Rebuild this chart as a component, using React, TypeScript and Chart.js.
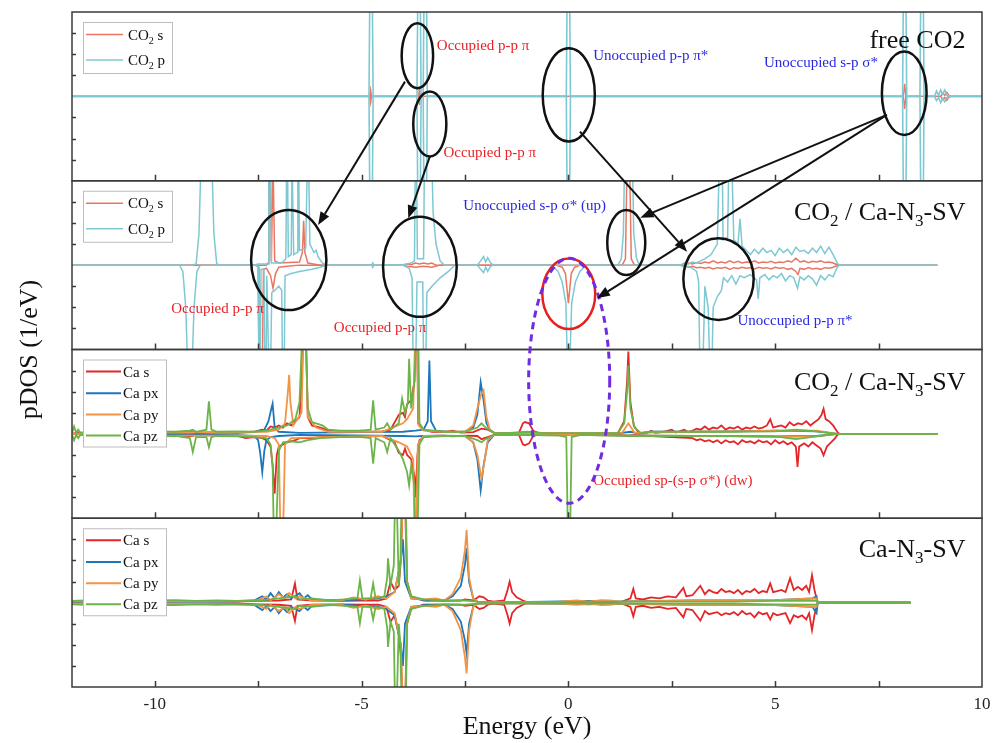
import React, { useEffect, useRef } from "react";
import { Chart, registerables } from "chart.js";
Chart.register(...registerables);

type Pt = [number, number];
const FONT = '"Liberation Serif", "Times New Roman", serif';

// ---------- Panel A: free CO2 ----------
const freeS_up: Pt[] = [[-12,0],[-4.8,0],[-4.78,0.3],[-4.76,0],[-3.62,0],[-3.6,0.4],[-3.58,0],[8.1,0],[8.13,0.6],[8.16,0],[9.0,0],[9.05,0.15],[9.1,0.05],[9.15,0.2],[9.2,0.05],[9.25,0],[10,0]];
const freeS_dn: Pt[] = [[-12,0],[-4.8,0],[-4.78,-0.3],[-4.76,0],[-3.62,0],[-3.6,-0.4],[-3.58,0],[8.1,0],[8.13,-0.6],[8.16,0],[9.0,0],[9.05,-0.15],[9.1,-0.05],[9.15,-0.2],[9.2,-0.05],[9.25,0],[10,0]];
const freeP_up: Pt[] = [[-12,0],[-4.82,0],[-4.8,5],[-4.74,5],[-4.72,0],[-3.66,0],[-3.64,5],[-3.58,5],[-3.56,0],[-3.51,0],[-3.49,5],[-3.43,5],[-3.41,0],[-0.05,0],[-0.03,5],[0.03,5],[0.05,0],[8.08,0],[8.1,5],[8.16,5],[8.18,0],[8.5,0],[8.52,5],[8.58,5],[8.6,0],[8.85,0],[8.9,0.25],[8.95,0.05],[9.0,0.3],[9.05,0.1],[9.1,0.3],[9.15,0.05],[9.2,0],[10,0]];
const freeP_dn: Pt[] = [[-12,0],[-4.82,0],[-4.8,-5],[-4.74,-5],[-4.72,0],[-3.66,0],[-3.64,-5],[-3.58,-5],[-3.56,0],[-3.51,0],[-3.49,-5],[-3.43,-5],[-3.41,0],[-0.05,0],[-0.03,-5],[0.03,-5],[0.05,0],[8.08,0],[8.1,-5],[8.16,-5],[8.18,0],[8.5,0],[8.52,-5],[8.58,-5],[8.6,0],[8.85,0],[8.9,-0.2],[8.95,-0.05],[9.0,-0.3],[9.05,-0.1],[9.1,-0.25],[9.15,-0.05],[9.2,0],[10,0]];

// ---------- Panel B: CO2 / Ca-N3-SV (CO2 orbitals) ----------
const adsP_up: Pt[] = [[-12,0],[-9.1,0],[-9.0,0.05],[-8.93,1.5],[-8.88,5],[-8.62,5],[-8.57,1.5],[-8.5,0.05],[-8.4,0],[-7.6,0],[-7.5,0.05],[-7.26,0.05],[-7.24,5],[-7.2,5],[-7.18,0.1],[-7.0,0.1],[-6.9,0.15],[-6.83,0.3],[-6.81,5],[-6.79,5],[-6.77,0.4],[-6.7,0.5],[-6.68,5],[-6.66,5],[-6.64,0.5],[-6.56,0.6],[-6.54,5],[-6.52,5],[-6.5,0.7],[-6.35,0.8],[-6.31,5],[-6.28,5],[-6.25,1.0],[-6.15,0.6],[-6.1,0.7],[-6.05,0.4],[-5.95,0.1],[-5.85,0],[-4.75,0],[-4.73,0.1],[-4.7,0],[-4.0,0.02],[-3.8,0.1],[-3.72,0.2],[-3.7,5],[-3.67,5],[-3.65,0.3],[-3.5,0.3],[-3.48,5],[-3.3,5],[-3.27,2.5],[-3.2,1.0],[-3.1,0.2],[-3.0,0],[-2.2,0],[-2.12,0.2],[-2.05,0.4],[-2.0,0.15],[-1.95,0.35],[-1.88,0.1],[-1.8,0],[1.2,0],[1.28,0.3],[1.33,1.5],[1.36,5],[1.55,5],[1.58,1.5],[1.65,0.3],[1.72,0],[2.7,0],[2.8,0.1],[2.9,0.05],[3.0,0.15],[3.1,0.1],[3.2,0.2],[3.3,0.3],[3.45,0.5],[3.6,1.0],[3.65,5],[3.72,5],[3.74,1.2],[3.85,1.3],[3.88,5],[3.95,5],[4.0,1.2],[4.1,1.0],[4.15,2.2],[4.2,0.9],[4.3,0.7],[4.4,0.5],[4.5,0.75],[4.6,0.55],[4.7,0.8],[4.8,0.6],[4.9,0.7],[5.0,0.45],[5.1,0.8],[5.2,0.6],[5.3,0.75],[5.4,0.5],[5.5,0.85],[5.6,0.65],[5.7,0.7],[5.8,0.55],[5.9,0.8],[6.0,0.6],[6.1,0.9],[6.2,0.55],[6.3,0.85],[6.4,0.5],[6.5,0.1],[6.55,0],[8.92,0]];
const adsP_dn: Pt[] = [[-12,0],[-9.4,0],[-9.32,-0.3],[-9.25,-2],[-9.2,-5],[-9.1,-5],[-9.05,-2],[-8.98,-0.3],[-8.9,0],[-7.6,0],[-7.5,-0.05],[-7.48,-5],[-7.45,-5],[-7.43,-0.2],[-7.36,-0.2],[-7.34,-5],[-7.31,-5],[-7.29,-0.5],[-7.24,-5],[-7.2,-5],[-7.17,-1.3],[-7.1,-1.2],[-7.0,-1.0],[-6.93,-1.2],[-6.91,-5],[-6.87,-5],[-6.85,-0.5],[-6.7,-0.4],[-6.5,-0.3],[-6.2,-0.2],[-6.0,-0.1],[-5.85,0],[-4.75,0],[-4.73,-0.1],[-4.7,0],[-4.0,0],[-3.85,-0.15],[-3.78,-0.6],[-3.75,-5],[-3.69,-5],[-3.66,-0.8],[-3.52,-0.8],[-3.5,-5],[-3.45,-5],[-3.42,-1.3],[-3.3,-1.0],[-3.1,-0.6],[-2.9,-0.3],[-2.75,0],[-2.2,0],[-2.12,-0.2],[-2.05,-0.35],[-2.0,-0.1],[-1.95,-0.3],[-1.88,-0.05],[-1.8,0],[-0.45,0],[-0.35,-0.1],[-0.25,-0.3],[-0.15,-0.8],[-0.06,-1.8],[-0.02,-5],[0.03,-5],[0.08,-1.8],[0.17,-0.8],[0.28,-0.3],[0.38,-0.1],[0.48,0],[2.7,0],[2.8,-0.1],[2.9,-0.05],[3.0,-0.15],[3.1,-0.3],[3.15,-0.8],[3.18,-5],[3.25,-5],[3.3,-1.0],[3.38,-2],[3.42,-5],[3.47,-5],[3.5,-2.0],[3.6,-1.5],[3.7,-1.2],[3.75,-0.6],[3.85,-0.8],[3.95,-0.5],[4.05,-0.9],[4.15,-0.5],[4.25,-0.6],[4.4,-0.45],[4.55,-0.7],[4.59,-1.6],[4.63,-0.6],[4.75,-0.45],[4.85,-0.7],[4.95,-0.5],[5.05,-0.6],[5.15,-0.4],[5.25,-0.75],[5.35,-0.5],[5.45,-0.6],[5.54,-1.1],[5.6,-0.55],[5.7,-0.7],[5.8,-0.5],[5.9,-0.65],[6.0,-0.95],[6.1,-0.5],[6.2,-0.7],[6.3,-0.45],[6.4,-0.55],[6.5,-0.1],[6.55,0],[8.92,0]];
const adsS_up: Pt[] = [[-12,0],[-7.3,0],[-7.26,0.1],[-7.24,5],[-7.21,5],[-7.18,0.2],[-7.14,5],[-7.12,5],[-7.1,0.2],[-7.0,0.1],[-6.5,0.15],[-6.43,0.6],[-6.4,2.1],[-6.37,0.6],[-6.3,0.1],[-6.0,0],[-4.0,0],[-3.9,0.05],[-3.8,0.02],[-3.7,0.1],[-3.6,0.05],[-3.5,0.1],[-3.4,0.05],[-3.3,0.1],[-3.2,0],[1.3,0],[1.38,0.3],[1.42,5],[1.48,5],[1.52,0.3],[1.6,0],[2.8,0],[2.9,0.1],[3.0,0.05],[3.1,0.12],[3.2,0.08],[3.3,0.15],[3.4,0.1],[3.5,0.2],[3.6,0.1],[3.7,0.15],[3.8,0.1],[3.9,0.2],[4.0,0.12],[4.1,0.18],[4.2,0.1],[4.3,0.15],[4.4,0.12],[4.5,0.2],[4.6,0.1],[4.7,0.15],[4.8,0.12],[4.9,0.18],[5.0,0.1],[5.1,0.15],[5.2,0.12],[5.3,0.2],[5.4,0.15],[5.5,0.33],[5.6,0.15],[5.7,0.2],[5.8,0.12],[5.9,0.18],[6.0,0.15],[6.1,0.2],[6.2,0.12],[6.3,0.15],[6.4,0.1],[6.5,0.02],[6.55,0],[8.92,0]];
const adsS_dn: Pt[] = [[-12,0],[-7.55,0],[-7.5,-0.1],[-7.48,-5],[-7.45,-5],[-7.42,-5],[-7.4,-5],[-7.37,-0.2],[-7.3,-0.15],[-7.2,-0.5],[-7.14,-1.1],[-7.08,-0.4],[-7.0,-0.1],[-6.8,-0.05],[-6.5,0],[-4.0,0],[-3.9,-0.05],[-3.7,-0.1],[-3.5,-0.05],[-3.3,-0.1],[-3.1,0],[-0.3,0],[-0.15,-0.1],[-0.07,-0.4],[-0.03,-1.2],[0.0,-1.8],[0.03,-1.2],[0.07,-0.4],[0.15,-0.1],[0.3,0],[2.8,0],[2.9,-0.1],[3.0,-0.06],[3.1,-0.12],[3.2,-0.1],[3.3,-0.15],[3.4,-0.1],[3.5,-0.18],[3.6,-0.12],[3.7,-0.15],[3.8,-0.1],[3.9,-0.2],[4.0,-0.12],[4.1,-0.16],[4.2,-0.1],[4.3,-0.15],[4.4,-0.12],[4.5,-0.18],[4.6,-0.1],[4.7,-0.15],[4.8,-0.12],[4.9,-0.18],[5.0,-0.1],[5.1,-0.15],[5.2,-0.12],[5.3,-0.2],[5.4,-0.15],[5.5,-0.3],[5.55,-0.45],[5.6,-0.15],[5.7,-0.2],[5.8,-0.12],[5.9,-0.18],[6.0,-0.15],[6.1,-0.2],[6.2,-0.12],[6.3,-0.15],[6.4,-0.1],[6.5,-0.02],[6.55,0],[8.92,0]];

// ---------- Panel C: CO2 / Ca-N3-SV (Ca orbitals) ----------
const adsCaS_up: Pt[] = [[-12,0],[-11.9,0.05],[-11.5,0.08],[-11,0.05],[-10.5,0.1],[-10,0.06],[-9.5,0.08],[-9.1,0.12],[-9.0,0.05],[-8.5,0.08],[-8.0,0.06],[-7.6,0.1],[-7.4,0.2],[-7.3,0.15],[-7.2,0.35],[-7.1,0.3],[-7.0,0.4],[-6.9,0.3],[-6.8,0.5],[-6.7,0.4],[-6.6,0.6],[-6.5,0.8],[-6.45,2.5],[-6.4,5],[-6.35,5],[-6.3,0.8],[-6.2,0.4],[-6.0,0.3],[-5.8,0.15],[-5.5,0.12],[-5.2,0.1],[-5.0,0.15],[-4.8,0.1],[-4.5,0.12],[-4.3,0.2],[-4.1,0.9],[-4.0,1.0],[-3.95,0.8],[-3.9,1.4],[-3.8,1.6],[-3.72,2.5],[-3.69,5],[-3.66,5],[-3.63,0.5],[-3.5,0.2],[-3.3,0.1],[-3.0,0.08],[-2.8,0.15],[-2.6,0.06],[-2.3,0.08],[-2.1,0.25],[-1.95,0.2],[-1.8,0.06],[-1.6,0.02],[-1.2,0.02],[-1.1,0.5],[-1.05,0.56],[-0.95,0.5],[-0.85,0.15],[-0.7,0.03],[0,0.02],[1.2,0.05],[1.35,0.6],[1.42,2.5],[1.45,3.9],[1.5,1.5],[1.58,0.4],[1.7,0.05],[1.9,0.05],[2.0,0.15],[2.1,0.05],[2.3,0.1],[2.5,0.2],[2.6,0.06],[2.8,0.2],[2.9,0.08],[3.0,0.15],[3.1,0.25],[3.2,0.2],[3.3,0.35],[3.4,0.2],[3.5,0.3],[3.6,0.25],[3.7,0.4],[3.8,0.2],[3.9,0.3],[4.0,0.25],[4.1,0.35],[4.2,0.2],[4.3,0.3],[4.4,0.25],[4.5,0.35],[4.6,0.25],[4.7,0.3],[4.8,0.4],[4.88,0.69],[4.95,0.3],[5.05,0.35],[5.15,0.4],[5.25,0.3],[5.35,0.55],[5.45,0.4],[5.55,0.5],[5.65,0.45],[5.75,0.6],[5.85,0.4],[5.95,0.55],[6.05,0.7],[6.12,0.9],[6.17,1.19],[6.22,0.7],[6.3,0.6],[6.4,0.4],[6.5,0.1],[6.55,0],[8.92,0]];
const adsCaS_dn: Pt[] = [[-12,0],[-11.5,-0.06],[-11,-0.05],[-10.5,-0.08],[-10,-0.06],[-9.5,-0.1],[-9.1,-0.1],[-9.0,-0.05],[-8.5,-0.08],[-8.0,-0.1],[-7.8,-0.2],[-7.6,-0.15],[-7.4,-0.2],[-7.3,-0.3],[-7.2,-0.6],[-7.15,-1.5],[-7.1,-2.83],[-7.05,-1.0],[-7.0,-0.6],[-6.9,-0.5],[-6.8,-0.4],[-6.6,-0.3],[-6.5,-0.2],[-6.2,-0.2],[-6.0,-0.15],[-5.5,-0.1],[-5.0,-0.12],[-4.5,-0.1],[-4.2,-0.4],[-4.1,-0.9],[-4.0,-1.0],[-3.95,-0.7],[-3.9,-1.0],[-3.8,-1.2],[-3.72,-2.0],[-3.69,-3.0],[-3.65,-1.0],[-3.6,-0.3],[-3.5,-0.15],[-3.3,-0.1],[-3.0,-0.08],[-2.8,-0.12],[-2.5,-0.08],[-2.2,-0.1],[-2.1,-0.25],[-1.95,-0.15],[-1.8,-0.05],[-1.2,-0.02],[-1.1,-0.5],[-1.05,-0.54],[-0.95,-0.45],[-0.85,-0.1],[-0.7,-0.02],[0,-0.02],[1.2,-0.02],[1.4,-0.1],[1.6,-0.05],[2.0,-0.1],[2.5,-0.15],[3.0,-0.2],[3.1,-0.3],[3.2,-0.25],[3.3,-0.35],[3.4,-0.3],[3.5,-0.4],[3.6,-0.3],[3.7,-0.45],[3.8,-0.3],[3.9,-0.4],[4.0,-0.35],[4.1,-0.5],[4.2,-0.3],[4.3,-0.4],[4.4,-0.35],[4.5,-0.45],[4.6,-0.3],[4.7,-0.4],[4.8,-0.35],[4.9,-0.5],[5.0,-0.3],[5.1,-0.45],[5.2,-0.35],[5.3,-0.5],[5.4,-0.4],[5.5,-0.6],[5.54,-1.57],[5.58,-0.6],[5.7,-0.45],[5.8,-0.6],[5.9,-0.4],[6.0,-0.55],[6.1,-0.7],[6.17,-1.02],[6.25,-0.6],[6.35,-0.4],[6.45,-0.2],[6.5,-0.05],[6.55,0],[8.92,0]];
const adsCaPx_up: Pt[] = [[-12,0],[-11.5,0.05],[-10,0.05],[-9,0.05],[-8,0.06],[-7.6,0.08],[-7.35,0.2],[-7.25,0.6],[-7.18,1.2],[-7.15,1.43],[-7.1,0.3],[-7.0,0.1],[-6.5,0.05],[-5.0,0.08],[-4.0,0.1],[-3.7,0.15],[-3.5,0.2],[-3.4,0.6],[-3.36,3.48],[-3.32,0.6],[-3.2,0.15],[-3.0,0.12],[-2.8,0.08],[-2.5,0.1],[-2.3,0.3],[-2.2,0.9],[-2.12,2.45],[-2.05,1.6],[-1.98,0.5],[-1.9,0.2],[-1.8,0.05],[-1.5,0.02],[1.2,0.02],[1.5,0.1],[1.7,0.02],[2.0,0.1],[3.0,0.1],[4.0,0.12],[5.0,0.15],[6.0,0.12],[6.5,0],[8.92,0]];
const adsCaPx_dn: Pt[] = [[-12,0],[-8,-0.06],[-7.6,-0.1],[-7.5,-0.3],[-7.45,-0.9],[-7.4,-1.81],[-7.35,-0.8],[-7.3,-0.3],[-7.2,-0.15],[-7.0,-0.1],[-6.5,-0.05],[-4.0,-0.1],[-3.7,-0.12],[-3.5,-0.1],[-3.2,-0.08],[-2.5,-0.1],[-2.3,-0.4],[-2.2,-1.2],[-2.12,-2.68],[-2.05,-1.5],[-1.95,-0.4],[-1.8,-0.05],[-1.5,-0.02],[2.0,-0.08],[3.0,-0.1],[4,-0.1],[5,-0.12],[6,-0.1],[6.5,0],[8.92,0]];
const adsCaPy_up: Pt[] = [[-12,0],[-11,0.08],[-10,0.06],[-9,0.08],[-8,0.08],[-7.3,0.1],[-7.0,0.2],[-6.85,0.5],[-6.78,2.0],[-6.75,2.8],[-6.72,1.5],[-6.65,0.4],[-6.45,1.0],[-6.4,5],[-6.35,5],[-6.3,0.8],[-6.1,0.3],[-5.8,0.1],[-4.5,0.1],[-4.0,0.5],[-3.9,0.7],[-3.75,1.2],[-3.7,5],[-3.66,5],[-3.62,0.4],[-3.5,0.15],[-3.0,0.1],[-2.5,0.1],[-2.3,0.4],[-2.2,1.2],[-2.12,1.8],[-2.05,2.06],[-1.98,0.8],[-1.9,0.2],[-1.8,0.05],[-1.5,0.02],[1.3,0.05],[1.45,0.5],[1.6,0.05],[3,0.1],[4,0.12],[5,0.15],[6,0.15],[6.5,0],[8.92,0]];
const adsCaPy_dn: Pt[] = [[-12,0],[-11,-0.08],[-9,-0.08],[-8,-0.08],[-7.3,-0.1],[-7.1,-0.2],[-7.0,-0.5],[-6.96,-5],[-6.9,-5],[-6.85,-0.5],[-6.7,-0.2],[-6.0,-0.15],[-4.5,-0.1],[-4.1,-0.4],[-3.9,-0.6],[-3.75,-1.2],[-3.72,-5],[-3.68,-5],[-3.64,-0.5],[-3.5,-0.1],[-2.5,-0.1],[-2.3,-0.4],[-2.2,-1.0],[-2.1,-2.12],[-2.02,-1.2],[-1.95,-0.3],[-1.8,-0.05],[-1.5,-0.02],[3,-0.1],[4,-0.12],[5,-0.15],[6,-0.12],[6.5,0],[8.92,0]];
const adsCaPz_up: Pt[] = [[-12,0.05],[-11.95,0.35],[-11.9,0.05],[-11.85,0.2],[-11.8,0.05],[-11.5,0.1],[-11,0.12],[-10.5,0.1],[-10,0.12],[-9.5,0.1],[-9.15,0.15],[-9.08,0.2],[-9.0,0.1],[-8.75,0.2],[-8.69,1.54],[-8.63,0.2],[-8.5,0.1],[-8,0.12],[-7.6,0.1],[-7.3,0.15],[-7.0,0.3],[-6.8,0.4],[-6.6,0.7],[-6.5,1.5],[-6.43,5],[-6.35,5],[-6.3,1.2],[-6.2,0.56],[-6.1,0.5],[-5.95,0.4],[-5.8,0.2],[-5.5,0.15],[-5,0.15],[-4.78,0.2],[-4.72,1.59],[-4.66,0.2],[-4.45,0.3],[-4.38,0.5],[-4.3,0.2],[-4.1,0.5],[-4.02,1.67],[-3.95,1.0],[-3.88,1.5],[-3.85,3.56],[-3.8,1.2],[-3.72,2.5],[-3.68,5],[-3.63,5],[-3.6,0.5],[-3.5,0.2],[-3.0,0.1],[-2.5,0.1],[-2.2,0.3],[-2.1,0.5],[-2.0,0.3],[-1.8,0.05],[-1.5,0.03],[-1.0,0.1],[-0.5,0.02],[1.2,0.05],[1.35,0.5],[1.42,2.0],[1.45,3.24],[1.5,1.2],[1.6,0.3],[1.75,0.05],[2,0.1],[3,0.1],[4,0.1],[5,0.12],[5.5,0.2],[6,0.12],[6.5,0],[8.92,0]];
const adsCaPz_dn: Pt[] = [[-12,-0.05],[-11.95,-0.3],[-11.9,-0.05],[-11.85,-0.2],[-11.8,-0.05],[-11.5,-0.1],[-11,-0.12],[-10.5,-0.1],[-10,-0.12],[-9.5,-0.1],[-9.15,-0.2],[-9.08,-0.86],[-9.0,-0.15],[-8.75,-0.15],[-8.69,-0.63],[-8.63,-0.15],[-8.5,-0.1],[-8,-0.12],[-7.6,-0.15],[-7.3,-0.2],[-7.2,-0.5],[-7.15,-1.5],[-7.12,-5],[-7.07,-5],[-7.0,-0.8],[-6.9,-0.4],[-6.7,-0.35],[-6.5,-0.4],[-6.3,-0.3],[-6.0,-0.2],[-5.5,-0.15],[-5,-0.15],[-4.78,-0.2],[-4.72,-1.41],[-4.66,-0.2],[-4.45,-0.4],[-4.38,-0.86],[-4.3,-0.2],[-4.1,-0.8],[-4.0,-1.2],[-3.9,-1.8],[-3.85,-2.44],[-3.8,-1.5],[-3.72,-2.5],[-3.7,-5],[-3.65,-5],[-3.6,-0.5],[-3.5,-0.15],[-3.0,-0.1],[-2.5,-0.1],[-2.2,-0.3],[-2.1,-0.4],[-2.0,-0.25],[-1.8,-0.05],[-1.5,-0.03],[-0.2,-0.08],[-0.05,-0.15],[-0.01,-5],[0.04,-5],[0.08,-0.15],[0.3,-0.05],[1.5,-0.1],[2,-0.1],[3,-0.1],[4,-0.1],[5,-0.12],[5.5,-0.25],[6,-0.12],[6.5,0],[8.92,0]];

// ---------- Panel D: Ca-N3-SV ----------
const bareCaS_up: Pt[] = [[-12,0.05],[-11,0.06],[-10,0.05],[-9,0.06],[-8,0.05],[-7.5,0.08],[-7.0,0.1],[-6.7,0.15],[-6.61,0.91],[-6.55,0.15],[-6.2,0.1],[-5.5,0.08],[-5.0,0.1],[-4.6,0.1],[-4.4,0.2],[-4.3,0.99],[-4.2,0.6],[-4.1,0.8],[-4.05,2.0],[-4.0,5],[-3.95,5],[-3.9,1.0],[-3.8,0.3],[-3.5,0.1],[-3.0,0.08],[-2.6,0.1],[-2.5,0.15],[-2.3,0.1],[-2.15,0.3],[-2.05,0.25],[-1.95,0.1],[-1.8,0.05],[-1.55,0.1],[-1.47,0.6],[-1.42,0.99],[-1.36,0.5],[-1.25,0.25],[-1.1,0.1],[-1.0,0.03],[0,0.02],[1.3,0.05],[1.5,0.2],[1.57,0.65],[1.63,0.2],[1.8,0.15],[2.0,0.25],[2.2,0.2],[2.4,0.3],[2.6,0.25],[2.78,0.7],[2.85,0.3],[3.0,0.35],[3.19,0.8],[3.3,0.4],[3.4,0.6],[3.5,0.5],[3.6,0.45],[3.7,0.65],[3.8,0.5],[3.9,0.55],[4.0,0.45],[4.1,0.6],[4.2,0.4],[4.3,0.55],[4.4,0.5],[4.5,0.65],[4.6,0.45],[4.7,0.55],[4.8,0.5],[4.88,0.91],[4.95,0.5],[5.05,0.55],[5.15,0.6],[5.25,0.5],[5.36,1.16],[5.45,0.6],[5.55,0.75],[5.65,0.6],[5.75,0.8],[5.82,0.5],[5.89,1.3],[5.95,0.6],[6.0,0.2],[6.03,0],[8.27,0]];
const bareCaS_dn: Pt[] = [[-12,-0.05],[-11,-0.06],[-10,-0.05],[-9,-0.06],[-8,-0.05],[-7.5,-0.08],[-7.0,-0.1],[-6.7,-0.15],[-6.61,-0.87],[-6.55,-0.15],[-6.2,-0.1],[-5.5,-0.08],[-5.0,-0.1],[-4.6,-0.1],[-4.4,-0.2],[-4.3,-0.91],[-4.2,-0.6],[-4.1,-1.5],[-4.05,-2.5],[-4.0,-5],[-3.95,-5],[-3.9,-1.0],[-3.8,-0.3],[-3.5,-0.1],[-3.0,-0.08],[-2.6,-0.1],[-2.5,-0.15],[-2.3,-0.1],[-2.15,-0.3],[-2.05,-0.25],[-1.95,-0.1],[-1.8,-0.05],[-1.55,-0.1],[-1.47,-0.6],[-1.42,-0.99],[-1.36,-0.5],[-1.25,-0.25],[-1.1,-0.1],[-1.0,-0.03],[0,-0.02],[1.3,-0.05],[1.5,-0.2],[1.57,-0.65],[1.63,-0.2],[1.8,-0.15],[2.0,-0.25],[2.2,-0.2],[2.4,-0.3],[2.6,-0.25],[2.78,-0.7],[2.85,-0.3],[3.0,-0.35],[3.19,-0.85],[3.3,-0.4],[3.4,-0.55],[3.5,-0.5],[3.6,-0.45],[3.7,-0.6],[3.8,-0.5],[3.9,-0.55],[4.0,-0.45],[4.1,-0.6],[4.2,-0.4],[4.3,-0.55],[4.4,-0.5],[4.5,-0.7],[4.6,-0.45],[4.7,-0.55],[4.8,-0.5],[4.88,-0.8],[4.95,-0.5],[5.05,-0.6],[5.15,-0.55],[5.25,-0.5],[5.36,-0.97],[5.45,-0.6],[5.55,-0.7],[5.65,-0.6],[5.75,-0.8],[5.82,-0.5],[5.89,-1.3],[5.95,-0.6],[6.0,-0.2],[6.03,0],[8.27,0]];
const bareCaPx_up: Pt[] = [[-12,0.05],[-9,0.05],[-8,0.06],[-7.6,0.1],[-7.4,0.3],[-7.3,0.15],[-7.2,0.45],[-7.1,0.2],[-7.0,0.5],[-6.9,0.25],[-6.8,0.4],[-6.7,0.2],[-6.5,0.45],[-6.4,0.2],[-6.3,0.35],[-6.2,0.15],[-5.5,0.1],[-5.0,0.15],[-4.6,0.2],[-4.4,0.3],[-4.2,0.5],[-4.05,2.0],[-4.0,3],[-3.95,1.0],[-3.8,0.2],[-3.6,0.15],[-3.4,0.1],[-3.2,0.15],[-3.0,0.1],[-2.8,0.3],[-2.6,0.8],[-2.5,1.8],[-2.46,2.57],[-2.4,1.0],[-2.3,0.2],[-2.2,0.05],[-1.5,0.02],[-0.5,0.05],[0.5,0.08],[1.0,0.05],[3,0.1],[4,0.1],[5,0.12],[5.9,0.2],[6.0,0.3],[6.03,0],[8.27,0]];
const bareCaPx_dn: Pt[] = [[-12,-0.05],[-9,-0.05],[-8,-0.06],[-7.6,-0.1],[-7.4,-0.35],[-7.3,-0.15],[-7.2,-0.4],[-7.1,-0.2],[-7.0,-0.5],[-6.9,-0.25],[-6.8,-0.45],[-6.7,-0.2],[-6.5,-0.4],[-6.4,-0.2],[-6.3,-0.35],[-6.2,-0.15],[-5.5,-0.1],[-5.0,-0.15],[-4.6,-0.2],[-4.4,-0.3],[-4.2,-0.6],[-4.05,-2.0],[-4.0,-3],[-3.95,-1.0],[-3.8,-0.2],[-3.6,-0.15],[-3.4,-0.1],[-3.2,-0.15],[-3.0,-0.1],[-2.8,-0.3],[-2.6,-0.9],[-2.5,-1.8],[-2.46,-2.41],[-2.4,-1.0],[-2.3,-0.2],[-2.2,-0.05],[-1.5,-0.02],[-0.5,-0.05],[0.5,-0.08],[1.0,-0.05],[3,-0.1],[4,-0.1],[5,-0.12],[5.9,-0.2],[6.0,-0.5],[6.03,0],[8.27,0]];
const bareCaPy_up: Pt[] = [[-12,0.06],[-9,0.06],[-8,0.08],[-7.5,0.12],[-7.3,0.3],[-7.2,0.1],[-7.0,0.4],[-6.85,0.2],[-6.75,0.45],[-6.6,0.2],[-6.5,0.3],[-6.2,0.1],[-5.5,0.1],[-5.2,0.25],[-4.9,0.15],[-4.6,0.3],[-4.4,0.2],[-4.2,0.5],[-4.05,2.0],[-4.0,5],[-3.94,5],[-3.9,1.0],[-3.8,0.2],[-3.5,0.15],[-3.2,0.2],[-3.0,0.1],[-2.8,0.4],[-2.6,1.2],[-2.5,2.5],[-2.46,3.44],[-2.4,1.2],[-2.3,0.2],[-2.2,0.05],[-1.5,0.02],[-0.2,0.05],[0.2,0.1],[0.5,0.05],[0.8,0.12],[1.0,0.1],[1.25,0.05],[3,0.1],[4,0.1],[5,0.12],[5.9,0.2],[6.0,0.2],[6.03,0],[8.27,0]];
const bareCaPy_dn: Pt[] = [[-12,-0.06],[-9,-0.06],[-8,-0.08],[-7.5,-0.12],[-7.3,-0.3],[-7.2,-0.1],[-7.0,-0.4],[-6.85,-0.2],[-6.75,-0.5],[-6.6,-0.2],[-6.5,-0.3],[-6.2,-0.1],[-5.5,-0.1],[-5.2,-0.25],[-4.9,-0.15],[-4.6,-0.3],[-4.4,-0.2],[-4.2,-0.5],[-4.05,-2.0],[-4.0,-5],[-3.94,-5],[-3.9,-1.0],[-3.8,-0.2],[-3.5,-0.15],[-3.2,-0.2],[-3.0,-0.1],[-2.8,-0.4],[-2.6,-1.3],[-2.5,-2.6],[-2.46,-3.36],[-2.4,-1.3],[-2.3,-0.2],[-2.2,-0.05],[-1.5,-0.02],[-0.2,-0.05],[0.2,-0.1],[0.5,-0.05],[0.8,-0.12],[1.0,-0.1],[1.25,-0.05],[3,-0.1],[4,-0.1],[5,-0.12],[5.9,-0.2],[6.0,-0.2],[6.03,0],[8.27,0]];
const bareCaPz_up: Pt[] = [[-12,0.08],[-11.5,0.12],[-11,0.08],[-10.5,0.12],[-10,0.1],[-9.5,0.12],[-9,0.08],[-8.5,0.1],[-8,0.08],[-7.5,0.1],[-7.2,0.15],[-7.0,0.2],[-6.6,0.3],[-6.5,0.15],[-6.2,0.2],[-5.8,0.1],[-5.4,0.15],[-5.1,0.2],[-5.04,1.06],[-4.98,0.2],[-4.78,0.2],[-4.72,0.91],[-4.66,0.2],[-4.45,0.3],[-4.38,1.2],[-4.36,2.1],[-4.3,0.8],[-4.22,1.78],[-4.19,5],[-4.15,5],[-4.1,0.8],[-4.06,2],[-4.03,5],[-3.93,5],[-3.9,1.0],[-3.8,0.3],[-3.5,0.15],[-3.0,0.1],[-2.5,0.1],[-2.2,0.05],[-1.5,0.02],[1.5,0.05],[3,0.05],[4,0.05],[5,0.08],[6.0,0.1],[6.03,0],[8.27,0]];
const bareCaPz_dn: Pt[] = [[-12,-0.08],[-11.5,-0.12],[-11,-0.08],[-10.5,-0.12],[-10,-0.1],[-9.5,-0.12],[-9,-0.08],[-8.5,-0.1],[-8,-0.08],[-7.5,-0.1],[-7.2,-0.15],[-7.0,-0.2],[-6.6,-0.3],[-6.5,-0.15],[-6.2,-0.2],[-5.8,-0.1],[-5.4,-0.15],[-5.1,-0.2],[-5.04,-0.98],[-4.98,-0.2],[-4.78,-0.2],[-4.72,-0.8],[-4.66,-0.2],[-4.45,-0.3],[-4.38,-1.2],[-4.36,-2.1],[-4.3,-0.9],[-4.22,-1.38],[-4.19,-5],[-4.15,-5],[-4.1,-1.0],[-4.06,-2],[-4.03,-5],[-3.93,-5],[-3.9,-1.0],[-3.8,-0.3],[-3.5,-0.15],[-3.0,-0.1],[-2.5,-0.1],[-2.2,-0.05],[-1.5,-0.02],[1.5,-0.05],[3,-0.05],[4,-0.05],[5,-0.08],[6.0,-0.1],[6.03,0],[8.27,0]];

// ---------- axes ----------
const xTickLabels = [-10, -5, 0, 5, 10];
const xTickMarks = [-10, -7.5, -5, -2.5, 0, 2.5, 5, 7.5];
const yTickMarks = [-3, -2, -1, 0, 1, 2, 3];

const C_CO2S = "rgb(232,118,98)";
const C_CO2P = "rgb(126,200,210)";
const C_CAS = "rgb(228,38,40)";
const C_CAPX = "rgb(28,118,188)";
const C_CAPY = "rgb(242,148,70)";
const C_CAPZ = "rgb(108,180,72)";
const C_RED_TXT = "rgb(232,34,40)";
const C_BLUE_TXT = "rgb(40,40,225)";

type Seg = { t: string; sub?: boolean };
const CO2s: Seg[] = [{ t: "CO" }, { t: "2", sub: true }, { t: " s" }];
const CO2p: Seg[] = [{ t: "CO" }, { t: "2", sub: true }, { t: " p" }];

function richWidth(ctx: CanvasRenderingContext2D, segs: Seg[], size: number, sub: number) {
  let w = 0;
  for (const s of segs) {
    ctx.font = `${s.sub ? sub : size}px ${FONT}`;
    w += ctx.measureText(s.t).width;
  }
  return w;
}
function drawRich(ctx: CanvasRenderingContext2D, segs: Seg[], x: number, y: number, size: number, sub: number, subDy: number, align: "left" | "right", color: string) {
  let cx = align === "right" ? x - richWidth(ctx, segs, size, sub) : x;
  ctx.fillStyle = color;
  ctx.textAlign = "left";
  ctx.textBaseline = "alphabetic";
  for (const s of segs) {
    ctx.font = `${s.sub ? sub : size}px ${FONT}`;
    ctx.fillText(s.t, cx, s.sub ? y + subDy : y);
    cx += ctx.measureText(s.t).width;
  }
}

// annotations in data coordinates (energy, panel value)
const panelLabels: { p: string; segs: Seg[]; x: number; y: number }[] = [
  { p: "yA", segs: [{ t: "free CO2" }], x: 9.6, y: 2.31 },
  { p: "yB", segs: [{ t: "CO" }, { t: "2", sub: true }, { t: " / Ca-N" }, { t: "3", sub: true }, { t: "-SV" }], x: 9.6, y: 2.14 },
  { p: "yC", segs: [{ t: "CO" }, { t: "2", sub: true }, { t: " / Ca-N" }, { t: "3", sub: true }, { t: "-SV" }], x: 9.6, y: 2.08 },
  { p: "yD", segs: [{ t: "Ca-N" }, { t: "3", sub: true }, { t: "-SV" }], x: 9.6, y: 2.18 },
];
const notes: { p: string; text: string; x: number; y: number; c: string }[] = [
  { p: "yA", text: "Occupied p-p π", x: -3.18, y: 2.2, c: C_RED_TXT },
  { p: "yA", text: "Occupied p-p π", x: -3.02, y: -2.86, c: C_RED_TXT },
  { p: "yA", text: "Unoccupied p-p π*", x: 0.6, y: 1.73, c: C_BLUE_TXT },
  { p: "yA", text: "Unoccupied s-p σ*", x: 4.73, y: 1.41, c: C_BLUE_TXT },
  { p: "yB", text: "Unoccupied s-p σ* (up)", x: -2.54, y: 2.61, c: C_BLUE_TXT },
  { p: "yB", text: "Occupied p-p π", x: -9.6, y: -2.29, c: C_RED_TXT },
  { p: "yB", text: "Occupied p-p π", x: -5.67, y: -3.16, c: C_RED_TXT },
  { p: "yB", text: "Unoccupied p-p π*", x: 4.09, y: -2.84, c: C_BLUE_TXT },
  { p: "yC", text: "Occupied sp-(s-p σ*) (dw)", x: 0.6, y: -2.42, c: C_RED_TXT },
];
const ellipses: { p: string; x: number; y: number; rx: number; ry: number; c: string; dash?: boolean }[] = [
  { p: "yA", x: -3.65, y: 1.93, rx: 0.38, ry: 1.54, c: "#111" },
  { p: "yA", x: -3.35, y: -1.31, rx: 0.4, ry: 1.54, c: "#111" },
  { p: "yA", x: 0.01, y: 0.07, rx: 0.63, ry: 2.21, c: "#111" },
  { p: "yA", x: 8.12, y: 0.15, rx: 0.54, ry: 1.98, c: "#111" },
  { p: "yB", x: -6.76, y: 0.24, rx: 0.91, ry: 2.37, c: "#111" },
  { p: "yB", x: -3.59, y: -0.08, rx: 0.89, ry: 2.37, c: "#111" },
  { p: "yB", x: 1.4, y: 1.07, rx: 0.46, ry: 1.54, c: "#111" },
  { p: "yB", x: 3.63, y: -0.66, rx: 0.85, ry: 1.94, c: "#111" },
  { p: "yB", x: 0.01, y: -1.36, rx: 0.64, ry: 1.67, c: "rgb(235,30,30)" },
  { p: "yC", x: 0.02, y: 2.52, rx: 0.98, ry: 5.81, c: "rgb(112,44,224)", dash: true },
];
const arrows: { p1: string; x1: number; y1: number; p2: string; x2: number; y2: number }[] = [
  { p1: "yA", x1: -3.95, y1: 0.7, p2: "yB", x2: -6.05, y2: 1.9 },
  { p1: "yA", x1: -3.35, y1: -2.86, p2: "yB", x2: -3.87, y2: 2.22 },
  { p1: "yA", x1: 0.28, y1: -1.67, p2: "yB", x2: 2.87, y2: 0.64 },
  { p1: "yA", x1: 7.7, y1: -0.88, p2: "yB", x2: 1.74, y2: 2.25 },
  { p1: "yA", x1: 7.7, y1: -0.88, p2: "yB", x2: 0.69, y2: -1.57 },
];

const panels = ["yA", "yB", "yC", "yD"];

function ds(p: string, pts: Pt[], color: string, order: number, width: number) {
  return {
    data: pts.map(([x, y]) => ({ x, y })),
    yAxisID: p,
    xAxisID: "x",
    borderColor: color,
    backgroundColor: color,
    borderWidth: width,
    pointRadius: 0,
    tension: 0,
    fill: false,
    order,
  };
}

const decor = {
  id: "decor",
  beforeDatasetDraw(chart: any, args: any) {
    const ys = args.meta.yScale;
    const ca = chart.chartArea;
    const ctx = chart.ctx;
    ctx.save();
    ctx.beginPath();
    ctx.rect(ca.left, ys.top, ca.right - ca.left, ys.bottom - ys.top);
    ctx.clip();
  },
  afterDatasetDraw(chart: any) {
    chart.ctx.restore();
  },
  afterDraw(chart: any) {
    const ctx: CanvasRenderingContext2D = chart.ctx;
    const ca = chart.chartArea;
    const xs = chart.scales.x;
    const X = (v: number) => xs.getPixelForValue(v);
    const Y = (p: string, v: number) => chart.scales[p].getPixelForValue(v);
    ctx.save();
    // frames and inward ticks
    ctx.strokeStyle = "#3a3a3a";
    ctx.lineWidth = 1.5;
    for (const p of panels) {
      const s = chart.scales[p];
      ctx.strokeRect(ca.left, s.top, ca.right - ca.left, s.bottom - s.top);
      ctx.beginPath();
      for (const v of xTickMarks) {
        const x = Math.round(X(v)) + 0.5;
        ctx.moveTo(x, s.bottom);
        ctx.lineTo(x, s.bottom - 6);
      }
      for (const v of yTickMarks) {
        if (v === 0) continue;
        const y = Math.round(Y(p, v)) + 0.5;
        ctx.moveTo(ca.left, y);
        ctx.lineTo(ca.left + 4, y);
      }
      ctx.stroke();
    }
    // legends
    const legendRowsCO2 = [
      { c: C_CO2S, segs: CO2s },
      { c: C_CO2P, segs: CO2p },
    ];
    const legendRowsCa = [
      { c: C_CAS, segs: [{ t: "Ca s" }] as Seg[] },
      { c: C_CAPX, segs: [{ t: "Ca px" }] as Seg[] },
      { c: C_CAPY, segs: [{ t: "Ca py" }] as Seg[] },
      { c: C_CAPZ, segs: [{ t: "Ca pz" }] as Seg[] },
    ];
    panels.forEach((p, i) => {
      const top = chart.scales[p].top;
      const l = ca.left;
      const isCO2 = i < 2;
      const rows = isCO2 ? legendRowsCO2 : legendRowsCa;
      const rowY = isCO2 ? [22.5, 48] : [22, 43.7, 65, 86];
      ctx.fillStyle = "#fff";
      ctx.strokeStyle = "#bdbdbd";
      ctx.lineWidth = 1;
      const bw = isCO2 ? 89 : 83;
      const bh = isCO2 ? 51 : 87;
      ctx.fillRect(l + 11, top + 10, bw, bh);
      ctx.strokeRect(l + 11.5, top + 10.5, bw, bh);
      rows.forEach((r, k) => {
        const yy = top + rowY[k];
        ctx.strokeStyle = r.c;
        ctx.lineWidth = isCO2 ? 1.6 : 2;
        ctx.beginPath();
        ctx.moveTo(l + 14, yy);
        ctx.lineTo(l + (isCO2 ? 51 : 49), yy);
        ctx.stroke();
        drawRich(ctx, r.segs, l + (isCO2 ? 56 : 51), yy + 5, 15, 10, 4, "left", "#111");
      });
    });
    // panel labels
    for (const lb of panelLabels) {
      drawRich(ctx, lb.segs, X(lb.x), Y(lb.p, lb.y), 26, 17, 6, "right", "#111");
    }
    // notes
    ctx.font = `15px ${FONT}`;
    ctx.textAlign = "left";
    ctx.textBaseline = "alphabetic";
    for (const n of notes) {
      ctx.fillStyle = n.c;
      ctx.fillText(n.text, X(n.x), Y(n.p, n.y));
    }
    // ellipses
    for (const e of ellipses) {
      const cx = X(e.x);
      const cy = Y(e.p, e.y);
      const rx = Math.abs(X(e.x + e.rx) - cx);
      const ry = Math.abs(Y(e.p, e.y + e.ry) - cy);
      ctx.strokeStyle = e.c;
      ctx.lineWidth = e.dash ? 3 : 2.5;
      ctx.setLineDash(e.dash ? [7, 5] : []);
      ctx.beginPath();
      ctx.ellipse(cx, cy, rx, ry, 0, 0, Math.PI * 2);
      ctx.stroke();
    }
    ctx.setLineDash([]);
    // arrows
    for (const a of arrows) {
      const x1 = X(a.x1), y1 = Y(a.p1, a.y1), x2 = X(a.x2), y2 = Y(a.p2, a.y2);
      const ang = Math.atan2(y2 - y1, x2 - x1);
      const L = 13, W = 5;
      const bx = x2 - L * Math.cos(ang), by = y2 - L * Math.sin(ang);
      ctx.strokeStyle = "#111";
      ctx.fillStyle = "#111";
      ctx.lineWidth = 2;
      ctx.beginPath();
      ctx.moveTo(x1, y1);
      ctx.lineTo(bx, by);
      ctx.stroke();
      ctx.beginPath();
      ctx.moveTo(x2, y2);
      ctx.lineTo(bx + W * Math.sin(ang), by - W * Math.cos(ang));
      ctx.lineTo(bx - W * Math.sin(ang), by + W * Math.cos(ang));
      ctx.closePath();
      ctx.fill();
    }
    // axis titles
    ctx.fillStyle = "#111";
    ctx.font = `26px ${FONT}`;
    ctx.textAlign = "center";
    ctx.textBaseline = "middle";
    ctx.fillText("Energy (eV)", (ca.left + ca.right) / 2, 727);
    ctx.save();
    ctx.translate(30, (ca.top + ca.bottom) / 2);
    ctx.rotate(-Math.PI / 2);
    ctx.fillText("pDOS (1/eV)", 0, 0);
    ctx.restore();
    ctx.restore();
  },
};

function yScale(weight: number) {
  return {
    type: "linear",
    position: "left",
    stack: "panels",
    stackWeight: 1,
    weight,
    min: -4,
    max: 4,
    offset: false,
    ticks: { display: false },
    grid: { display: false, drawTicks: false },
    border: { display: false },
    afterFit: (s: any) => { s.width = 0; s.paddingTop = 0; s.paddingBottom = 0; },
  };
}

export default function App() {
  const ref = useRef<HTMLCanvasElement | null>(null);
  useEffect(() => {
    if (!ref.current) return;
    const datasets = [
      ds("yA", freeP_up, C_CO2P, 0, 1.6), ds("yA", freeP_dn, C_CO2P, 0, 1.6),
      ds("yA", freeS_up, C_CO2S, 1, 1.4), ds("yA", freeS_dn, C_CO2S, 1, 1.4),
      ds("yB", adsP_up, C_CO2P, 0, 1.5), ds("yB", adsP_dn, C_CO2P, 0, 1.5),
      ds("yB", adsS_up, C_CO2S, 1, 1.5), ds("yB", adsS_dn, C_CO2S, 1, 1.5),
      ds("yC", adsCaPz_up, C_CAPZ, 0, 1.8), ds("yC", adsCaPz_dn, C_CAPZ, 0, 1.8),
      ds("yC", adsCaPy_up, C_CAPY, 1, 1.8), ds("yC", adsCaPy_dn, C_CAPY, 1, 1.8),
      ds("yC", adsCaPx_up, C_CAPX, 2, 1.8), ds("yC", adsCaPx_dn, C_CAPX, 2, 1.8),
      ds("yC", adsCaS_up, C_CAS, 3, 1.8), ds("yC", adsCaS_dn, C_CAS, 3, 1.8),
      ds("yD", bareCaPz_up, C_CAPZ, 0, 1.8), ds("yD", bareCaPz_dn, C_CAPZ, 0, 1.8),
      ds("yD", bareCaPy_up, C_CAPY, 1, 1.8), ds("yD", bareCaPy_dn, C_CAPY, 1, 1.8),
      ds("yD", bareCaPx_up, C_CAPX, 2, 1.8), ds("yD", bareCaPx_dn, C_CAPX, 2, 1.8),
      ds("yD", bareCaS_up, C_CAS, 3, 1.8), ds("yD", bareCaS_dn, C_CAS, 3, 1.8),
    ];
    const chart = new Chart(ref.current, {
      type: "line",
      data: { datasets } as any,
      options: {
        responsive: false,
        animation: false,
        devicePixelRatio: 1,
        layout: { padding: { left: 72, right: 12, top: 12, bottom: 0 } },
        plugins: { legend: { display: false }, tooltip: { enabled: false } },
        scales: {
          x: {
            type: "linear",
            position: "bottom",
            min: -12,
            max: 10,
            afterBuildTicks: (s: any) => { s.ticks = xTickLabels.map((v) => ({ value: v })); },
            ticks: { font: { family: FONT, size: 17 }, color: "#222", padding: 7, maxRotation: 0, autoSkip: false, callback: (v: any) => String(v) },
            grid: { display: false, drawTicks: false },
            border: { display: false },
            afterFit: (s: any) => { s.height = 56; s.paddingLeft = 0; s.paddingRight = 0; },
          },
          yA: yScale(4),
          yB: yScale(3),
          yC: yScale(2),
          yD: yScale(1),
        } as any,
      },
      plugins: [decor],
    } as any);
    return () => chart.destroy();
  }, []);
  return (
    <div style={{ position: "fixed", left: 0, top: 0, width: 994, height: 743, background: "#fff" }}>
      <canvas ref={ref} width={994} height={743} style={{ display: "block" }} />
    </div>
  );
}
